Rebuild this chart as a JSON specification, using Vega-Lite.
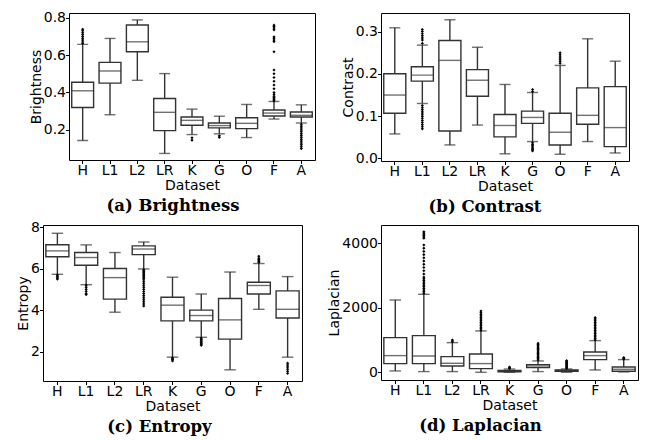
{
"$schema": "https://vega.github.io/schema/vega-lite/v6.json",
"background": "white",
"padding": {"left": 12, "top": 7, "right": 0, "bottom": 0},
"datasets": {
"spacer": [{"k": 0}],
"stats": [
{"p":"a","ds":"H","lo":0.143,"q1":0.320,"med":0.409,"q3":0.455,"hi":0.657},
{"p":"a","ds":"L1","lo":0.281,"q1":0.450,"med":0.515,"q3":0.561,"hi":0.689},
{"p":"a","ds":"L2","lo":0.465,"q1":0.618,"med":0.671,"q3":0.761,"hi":0.788},
{"p":"a","ds":"LR","lo":0.074,"q1":0.196,"med":0.294,"q3":0.368,"hi":0.501},
{"p":"a","ds":"K","lo":0.175,"q1":0.225,"med":0.251,"q3":0.269,"hi":0.311},
{"p":"a","ds":"G","lo":0.179,"q1":0.211,"med":0.223,"q3":0.237,"hi":0.273},
{"p":"a","ds":"O","lo":0.159,"q1":0.207,"med":0.235,"q3":0.265,"hi":0.336},
{"p":"a","ds":"F","lo":0.258,"q1":0.274,"med":0.290,"q3":0.306,"hi":0.352},
{"p":"a","ds":"A","lo":0.237,"q1":0.269,"med":0.278,"q3":0.296,"hi":0.334},
{"p":"b","ds":"H","lo":0.058,"q1":0.107,"med":0.150,"q3":0.2005,"hi":0.309},
{"p":"b","ds":"L1","lo":0.130,"q1":0.183,"med":0.197,"q3":0.217,"hi":0.268},
{"p":"b","ds":"L2","lo":0.032,"q1":0.065,"med":0.232,"q3":0.279,"hi":0.328},
{"p":"b","ds":"LR","lo":0.079,"q1":0.147,"med":0.185,"q3":0.210,"hi":0.263},
{"p":"b","ds":"K","lo":0.011,"q1":0.051,"med":0.078,"q3":0.104,"hi":0.175},
{"p":"b","ds":"G","lo":0.040,"q1":0.083,"med":0.097,"q3":0.112,"hi":0.156},
{"p":"b","ds":"O","lo":0.010,"q1":0.032,"med":0.062,"q3":0.107,"hi":0.220},
{"p":"b","ds":"F","lo":0.040,"q1":0.081,"med":0.102,"q3":0.167,"hi":0.283},
{"p":"b","ds":"A","lo":0.013,"q1":0.028,"med":0.073,"q3":0.170,"hi":0.230},
{"p":"c","ds":"H","lo":5.73,"q1":6.58,"med":6.86,"q3":7.16,"hi":7.71},
{"p":"c","ds":"L1","lo":5.23,"q1":6.17,"med":6.54,"q3":6.78,"hi":7.15},
{"p":"c","ds":"L2","lo":3.90,"q1":4.53,"med":5.57,"q3":6.01,"hi":6.78},
{"p":"c","ds":"LR","lo":5.99,"q1":6.68,"med":6.95,"q3":7.10,"hi":7.29},
{"p":"c","ds":"K","lo":1.73,"q1":3.48,"med":4.24,"q3":4.62,"hi":5.59},
{"p":"c","ds":"G","lo":2.69,"q1":3.48,"med":3.74,"q3":4.00,"hi":4.78},
{"p":"c","ds":"O","lo":1.12,"q1":2.60,"med":3.53,"q3":4.56,"hi":5.84},
{"p":"c","ds":"F","lo":4.04,"q1":4.78,"med":5.19,"q3":5.35,"hi":6.25},
{"p":"c","ds":"A","lo":1.73,"q1":3.62,"med":4.04,"q3":4.93,"hi":5.62},
{"p":"d","ds":"H","lo":41,"q1":269,"med":517,"q3":1075,"hi":2243},
{"p":"d","ds":"L1","lo":21,"q1":269,"med":506,"q3":1137,"hi":2419},
{"p":"d","ds":"L2","lo":21,"q1":196,"med":279,"q3":486,"hi":920},
{"p":"d","ds":"LR","lo":0,"q1":114,"med":269,"q3":568,"hi":1282},
{"p":"d","ds":"K","lo":0,"q1":15,"med":35,"q3":55,"hi":100},
{"p":"d","ds":"G","lo":21,"q1":145,"med":196,"q3":238,"hi":351},
{"p":"d","ds":"O","lo":0,"q1":31,"med":52,"q3":72,"hi":103},
{"p":"d","ds":"F","lo":72,"q1":393,"med":517,"q3":630,"hi":982},
{"p":"d","ds":"A","lo":10,"q1":31,"med":93,"q3":165,"hi":393}
],
"out": [
{"p":"a","ds":"H","v":0.662},{"p":"a","ds":"H","v":0.67},{"p":"a","ds":"H","v":0.68},{"p":"a","ds":"H","v":0.69},{"p":"a","ds":"H","v":0.70},{"p":"a","ds":"H","v":0.71},{"p":"a","ds":"H","v":0.72},{"p":"a","ds":"H","v":0.73},{"p":"a","ds":"H","v":0.738},
{"p":"a","ds":"K","v":0.158},{"p":"a","ds":"K","v":0.145},
{"p":"a","ds":"G","v":0.168},{"p":"a","ds":"G","v":0.16},
{"p":"a","ds":"F","v":0.735},{"p":"a","ds":"F","v":0.745},{"p":"a","ds":"F","v":0.752},{"p":"a","ds":"F","v":0.76},{"p":"a","ds":"F","v":0.672},{"p":"a","ds":"F","v":0.68},{"p":"a","ds":"F","v":0.69},{"p":"a","ds":"F","v":0.697},{"p":"a","ds":"F","v":0.618},{"p":"a","ds":"F","v":0.52},{"p":"a","ds":"F","v":0.50},{"p":"a","ds":"F","v":0.48},{"p":"a","ds":"F","v":0.46},{"p":"a","ds":"F","v":0.44},{"p":"a","ds":"F","v":0.42},{"p":"a","ds":"F","v":0.40},{"p":"a","ds":"F","v":0.39},{"p":"a","ds":"F","v":0.38},{"p":"a","ds":"F","v":0.375},{"p":"a","ds":"F","v":0.37},{"p":"a","ds":"F","v":0.365},{"p":"a","ds":"F","v":0.36},{"p":"a","ds":"F","v":0.355},
{"p":"a","ds":"A","v":0.23},{"p":"a","ds":"A","v":0.22},{"p":"a","ds":"A","v":0.21},{"p":"a","ds":"A","v":0.20},{"p":"a","ds":"A","v":0.19},{"p":"a","ds":"A","v":0.18},{"p":"a","ds":"A","v":0.17},{"p":"a","ds":"A","v":0.16},{"p":"a","ds":"A","v":0.15},{"p":"a","ds":"A","v":0.14},{"p":"a","ds":"A","v":0.13},{"p":"a","ds":"A","v":0.12},{"p":"a","ds":"A","v":0.11},{"p":"a","ds":"A","v":0.10},
{"p":"b","ds":"L1","v":0.272},{"p":"b","ds":"L1","v":0.28},{"p":"b","ds":"L1","v":0.285},{"p":"b","ds":"L1","v":0.29},{"p":"b","ds":"L1","v":0.295},{"p":"b","ds":"L1","v":0.30},{"p":"b","ds":"L1","v":0.305},
{"p":"b","ds":"L1","v":0.125},{"p":"b","ds":"L1","v":0.12},{"p":"b","ds":"L1","v":0.115},{"p":"b","ds":"L1","v":0.11},{"p":"b","ds":"L1","v":0.105},{"p":"b","ds":"L1","v":0.10},{"p":"b","ds":"L1","v":0.095},{"p":"b","ds":"L1","v":0.09},{"p":"b","ds":"L1","v":0.085},{"p":"b","ds":"L1","v":0.08},{"p":"b","ds":"L1","v":0.075},{"p":"b","ds":"L1","v":0.07},
{"p":"b","ds":"G","v":0.158},{"p":"b","ds":"G","v":0.163},{"p":"b","ds":"G","v":0.037},{"p":"b","ds":"G","v":0.033},{"p":"b","ds":"G","v":0.03},{"p":"b","ds":"G","v":0.027},{"p":"b","ds":"G","v":0.024},{"p":"b","ds":"G","v":0.021},{"p":"b","ds":"G","v":0.018},
{"p":"b","ds":"O","v":0.225},{"p":"b","ds":"O","v":0.23},{"p":"b","ds":"O","v":0.235},{"p":"b","ds":"O","v":0.24},{"p":"b","ds":"O","v":0.245},{"p":"b","ds":"O","v":0.25},
{"p":"c","ds":"H","v":5.7},{"p":"c","ds":"H","v":5.65},{"p":"c","ds":"H","v":5.6},{"p":"c","ds":"H","v":5.55},{"p":"c","ds":"H","v":5.5},
{"p":"c","ds":"L1","v":5.2},{"p":"c","ds":"L1","v":5.1},{"p":"c","ds":"L1","v":5.0},{"p":"c","ds":"L1","v":4.9},{"p":"c","ds":"L1","v":4.8},{"p":"c","ds":"L1","v":4.75},
{"p":"c","ds":"LR","v":5.95},{"p":"c","ds":"LR","v":5.9},{"p":"c","ds":"LR","v":5.85},{"p":"c","ds":"LR","v":5.8},{"p":"c","ds":"LR","v":5.75},{"p":"c","ds":"LR","v":5.7},{"p":"c","ds":"LR","v":5.65},{"p":"c","ds":"LR","v":5.6},{"p":"c","ds":"LR","v":5.55},{"p":"c","ds":"LR","v":5.5},{"p":"c","ds":"LR","v":5.4},{"p":"c","ds":"LR","v":5.3},{"p":"c","ds":"LR","v":5.2},{"p":"c","ds":"LR","v":5.1},{"p":"c","ds":"LR","v":5.0},{"p":"c","ds":"LR","v":4.9},{"p":"c","ds":"LR","v":4.8},{"p":"c","ds":"LR","v":4.7},{"p":"c","ds":"LR","v":4.6},{"p":"c","ds":"LR","v":4.5},{"p":"c","ds":"LR","v":4.4},{"p":"c","ds":"LR","v":4.3},{"p":"c","ds":"LR","v":4.2},
{"p":"c","ds":"K","v":1.7},{"p":"c","ds":"K","v":1.65},{"p":"c","ds":"K","v":1.6},{"p":"c","ds":"K","v":1.55},
{"p":"c","ds":"G","v":2.65},{"p":"c","ds":"G","v":2.6},{"p":"c","ds":"G","v":2.55},{"p":"c","ds":"G","v":2.5},{"p":"c","ds":"G","v":2.45},{"p":"c","ds":"G","v":2.4},{"p":"c","ds":"G","v":2.35},{"p":"c","ds":"G","v":2.3},
{"p":"c","ds":"F","v":6.3},{"p":"c","ds":"F","v":6.35},{"p":"c","ds":"F","v":6.4},{"p":"c","ds":"F","v":6.45},{"p":"c","ds":"F","v":6.5},{"p":"c","ds":"F","v":6.6},
{"p":"c","ds":"A","v":1.44},{"p":"c","ds":"A","v":1.35},{"p":"c","ds":"A","v":1.25},{"p":"c","ds":"A","v":1.15},{"p":"c","ds":"A","v":1.05},{"p":"c","ds":"A","v":0.95},
{"p":"d","ds":"L1","v":4360},{"p":"d","ds":"L1","v":4320},{"p":"d","ds":"L1","v":4280},{"p":"d","ds":"L1","v":4240},{"p":"d","ds":"L1","v":4200},{"p":"d","ds":"L1","v":4160},{"p":"d","ds":"L1","v":3950},{"p":"d","ds":"L1","v":3850},{"p":"d","ds":"L1","v":3750},{"p":"d","ds":"L1","v":3650},{"p":"d","ds":"L1","v":3550},{"p":"d","ds":"L1","v":3450},{"p":"d","ds":"L1","v":3350},{"p":"d","ds":"L1","v":3250},{"p":"d","ds":"L1","v":3150},{"p":"d","ds":"L1","v":3050},{"p":"d","ds":"L1","v":2950},{"p":"d","ds":"L1","v":2900},{"p":"d","ds":"L1","v":2850},{"p":"d","ds":"L1","v":2800},{"p":"d","ds":"L1","v":2750},{"p":"d","ds":"L1","v":2700},{"p":"d","ds":"L1","v":2650},{"p":"d","ds":"L1","v":2600},{"p":"d","ds":"L1","v":2550},{"p":"d","ds":"L1","v":2500},{"p":"d","ds":"L1","v":2450},
{"p":"d","ds":"L2","v":940},{"p":"d","ds":"L2","v":970},{"p":"d","ds":"L2","v":1000},
{"p":"d","ds":"LR","v":1300},{"p":"d","ds":"LR","v":1350},{"p":"d","ds":"LR","v":1400},{"p":"d","ds":"LR","v":1450},{"p":"d","ds":"LR","v":1500},{"p":"d","ds":"LR","v":1550},{"p":"d","ds":"LR","v":1600},{"p":"d","ds":"LR","v":1650},{"p":"d","ds":"LR","v":1700},{"p":"d","ds":"LR","v":1750},{"p":"d","ds":"LR","v":1800},{"p":"d","ds":"LR","v":1850},{"p":"d","ds":"LR","v":1900},
{"p":"d","ds":"K","v":120},{"p":"d","ds":"K","v":140},{"p":"d","ds":"K","v":160},
{"p":"d","ds":"G","v":380},{"p":"d","ds":"G","v":420},{"p":"d","ds":"G","v":460},{"p":"d","ds":"G","v":500},{"p":"d","ds":"G","v":540},{"p":"d","ds":"G","v":580},{"p":"d","ds":"G","v":620},{"p":"d","ds":"G","v":660},{"p":"d","ds":"G","v":700},{"p":"d","ds":"G","v":740},{"p":"d","ds":"G","v":780},{"p":"d","ds":"G","v":820},{"p":"d","ds":"G","v":860},{"p":"d","ds":"G","v":900},
{"p":"d","ds":"O","v":120},{"p":"d","ds":"O","v":150},{"p":"d","ds":"O","v":180},{"p":"d","ds":"O","v":210},{"p":"d","ds":"O","v":240},{"p":"d","ds":"O","v":270},{"p":"d","ds":"O","v":300},{"p":"d","ds":"O","v":330},{"p":"d","ds":"O","v":360},
{"p":"d","ds":"F","v":1000},{"p":"d","ds":"F","v":1050},{"p":"d","ds":"F","v":1100},{"p":"d","ds":"F","v":1150},{"p":"d","ds":"F","v":1200},{"p":"d","ds":"F","v":1250},{"p":"d","ds":"F","v":1300},{"p":"d","ds":"F","v":1350},{"p":"d","ds":"F","v":1400},{"p":"d","ds":"F","v":1450},{"p":"d","ds":"F","v":1500},{"p":"d","ds":"F","v":1550},{"p":"d","ds":"F","v":1600},{"p":"d","ds":"F","v":1650},{"p":"d","ds":"F","v":1695},
{"p":"d","ds":"A","v":410},{"p":"d","ds":"A","v":430},{"p":"d","ds":"A","v":455}
]
},
"vconcat": [
{"hconcat": [
{"width": 16, "height": 1, "view": {"stroke": null}, "data": {"name": "spacer"}, "mark": {"type": "text", "text": ""}, "encoding": {}},
{"hconcat": [
{"width": 246, "height": 147,
 "title": {"text": "(a) Brightness", "dx": -19},
 "layer": [
  {"data": {"name": "stats"}, "transform": [{"filter": "datum.p==='a'"}],
   "mark": {"type": "rule", "color": "#333", "strokeWidth": 1.4},
   "encoding": {
    "x": {"field": "ds", "type": "nominal", "sort": ["H","L1","L2","LR","K","G","O","F","A"], "scale": {"type": "band", "paddingInner": 0, "paddingOuter": 0}, "title": "Dataset"},
    "y": {"field": "lo", "type": "quantitative", "scale": {"domain": [0.039, 0.825], "nice": false, "zero": false}, "axis": {"values": [0.2,0.4,0.6,0.8], "format": ".1f"}, "title": "Brightness"},
    "y2": {"field": "hi"}}},
  {"data": {"name": "stats"}, "transform": [{"filter": "datum.p==='a'"}],
   "mark": {"type": "bar", "fill": "white", "stroke": "#333", "strokeWidth": 1.4, "width": {"band": 0.8}},
   "encoding": {"x": {"field": "ds", "type": "nominal", "sort": ["H","L1","L2","LR","K","G","O","F","A"]}, "y": {"field": "q1", "type": "quantitative"}, "y2": {"field": "q3"}}},
  {"data": {"name": "stats"}, "transform": [{"filter": "datum.p==='a'"}],
   "mark": {"type": "tick", "color": "#333", "thickness": 1.4, "size": 22},
   "encoding": {"x": {"field": "ds", "type": "nominal", "sort": ["H","L1","L2","LR","K","G","O","F","A"]}, "y": {"field": "med", "type": "quantitative"}}},
  {"data": {"name": "stats"}, "transform": [{"filter": "datum.p==='a'"}],
   "mark": {"type": "tick", "color": "#333", "thickness": 1.4, "size": 11},
   "encoding": {"x": {"field": "ds", "type": "nominal", "sort": ["H","L1","L2","LR","K","G","O","F","A"]}, "y": {"field": "lo", "type": "quantitative"}}},
  {"data": {"name": "stats"}, "transform": [{"filter": "datum.p==='a'"}],
   "mark": {"type": "tick", "color": "#333", "thickness": 1.4, "size": 11},
   "encoding": {"x": {"field": "ds", "type": "nominal", "sort": ["H","L1","L2","LR","K","G","O","F","A"]}, "y": {"field": "hi", "type": "quantitative"}}},
  {"data": {"name": "out"}, "transform": [{"filter": "datum.p==='a'"}],
   "mark": {"type": "point", "shape": "diamond", "filled": true, "color": "black", "size": 10, "opacity": 1},
   "encoding": {"x": {"field": "ds", "type": "nominal", "sort": ["H","L1","L2","LR","K","G","O","F","A"]}, "y": {"field": "v", "type": "quantitative"}}}
 ]},
{"width": 248, "height": 148,
 "title": {"text": "(b) Contrast", "dx": -20},
 "layer": [
  {"data": {"name": "stats"}, "transform": [{"filter": "datum.p==='b'"}],
   "mark": {"type": "rule", "color": "#333", "strokeWidth": 1.4},
   "encoding": {
    "x": {"field": "ds", "type": "nominal", "sort": ["H","L1","L2","LR","K","G","O","F","A"], "scale": {"type": "band", "paddingInner": 0, "paddingOuter": 0}, "title": "Dataset"},
    "y": {"field": "lo", "type": "quantitative", "scale": {"domain": [-0.006, 0.344], "nice": false, "zero": false}, "axis": {"values": [0,0.1,0.2,0.3], "format": ".1f"}, "title": "Contrast"},
    "y2": {"field": "hi"}}},
  {"data": {"name": "stats"}, "transform": [{"filter": "datum.p==='b'"}],
   "mark": {"type": "bar", "fill": "white", "stroke": "#333", "strokeWidth": 1.4, "width": {"band": 0.8}},
   "encoding": {"x": {"field": "ds", "type": "nominal", "sort": ["H","L1","L2","LR","K","G","O","F","A"]}, "y": {"field": "q1", "type": "quantitative"}, "y2": {"field": "q3"}}},
  {"data": {"name": "stats"}, "transform": [{"filter": "datum.p==='b'"}],
   "mark": {"type": "tick", "color": "#333", "thickness": 1.4, "size": 22},
   "encoding": {"x": {"field": "ds", "type": "nominal", "sort": ["H","L1","L2","LR","K","G","O","F","A"]}, "y": {"field": "med", "type": "quantitative"}}},
  {"data": {"name": "stats"}, "transform": [{"filter": "datum.p==='b'"}],
   "mark": {"type": "tick", "color": "#333", "thickness": 1.4, "size": 11},
   "encoding": {"x": {"field": "ds", "type": "nominal", "sort": ["H","L1","L2","LR","K","G","O","F","A"]}, "y": {"field": "lo", "type": "quantitative"}}},
  {"data": {"name": "stats"}, "transform": [{"filter": "datum.p==='b'"}],
   "mark": {"type": "tick", "color": "#333", "thickness": 1.4, "size": 11},
   "encoding": {"x": {"field": "ds", "type": "nominal", "sort": ["H","L1","L2","LR","K","G","O","F","A"]}, "y": {"field": "hi", "type": "quantitative"}}},
  {"data": {"name": "out"}, "transform": [{"filter": "datum.p==='b'"}],
   "mark": {"type": "point", "shape": "diamond", "filled": true, "color": "black", "size": 10, "opacity": 1},
   "encoding": {"x": {"field": "ds", "type": "nominal", "sort": ["H","L1","L2","LR","K","G","O","F","A"]}, "y": {"field": "v", "type": "quantitative"}}}
 ]}
], "spacing": 24}
], "spacing": 0},
{"hconcat": [
{"width": 4, "height": 1, "view": {"stroke": null}, "data": {"name": "spacer"}, "mark": {"type": "text", "text": ""}, "encoding": {}},
{"hconcat": [
{"width": 259, "height": 156,
 "title": {"text": "(c) Entropy", "dx": -13},
 "layer": [
  {"data": {"name": "stats"}, "transform": [{"filter": "datum.p==='c'"}],
   "mark": {"type": "rule", "color": "#333", "strokeWidth": 1.4},
   "encoding": {
    "x": {"field": "ds", "type": "nominal", "sort": ["H","L1","L2","LR","K","G","O","F","A"], "scale": {"type": "band", "paddingInner": 0, "paddingOuter": 0}, "title": "Dataset"},
    "y": {"field": "lo", "type": "quantitative", "scale": {"domain": [0.58, 8.11], "nice": false, "zero": false}, "axis": {"values": [2,4,6,8], "format": "d"}, "title": "Entropy"},
    "y2": {"field": "hi"}}},
  {"data": {"name": "stats"}, "transform": [{"filter": "datum.p==='c'"}],
   "mark": {"type": "bar", "fill": "white", "stroke": "#333", "strokeWidth": 1.4, "width": {"band": 0.8}},
   "encoding": {"x": {"field": "ds", "type": "nominal", "sort": ["H","L1","L2","LR","K","G","O","F","A"]}, "y": {"field": "q1", "type": "quantitative"}, "y2": {"field": "q3"}}},
  {"data": {"name": "stats"}, "transform": [{"filter": "datum.p==='c'"}],
   "mark": {"type": "tick", "color": "#333", "thickness": 1.4, "size": 23},
   "encoding": {"x": {"field": "ds", "type": "nominal", "sort": ["H","L1","L2","LR","K","G","O","F","A"]}, "y": {"field": "med", "type": "quantitative"}}},
  {"data": {"name": "stats"}, "transform": [{"filter": "datum.p==='c'"}],
   "mark": {"type": "tick", "color": "#333", "thickness": 1.4, "size": 11.5},
   "encoding": {"x": {"field": "ds", "type": "nominal", "sort": ["H","L1","L2","LR","K","G","O","F","A"]}, "y": {"field": "lo", "type": "quantitative"}}},
  {"data": {"name": "stats"}, "transform": [{"filter": "datum.p==='c'"}],
   "mark": {"type": "tick", "color": "#333", "thickness": 1.4, "size": 11.5},
   "encoding": {"x": {"field": "ds", "type": "nominal", "sort": ["H","L1","L2","LR","K","G","O","F","A"]}, "y": {"field": "hi", "type": "quantitative"}}},
  {"data": {"name": "out"}, "transform": [{"filter": "datum.p==='c'"}],
   "mark": {"type": "point", "shape": "diamond", "filled": true, "color": "black", "size": 10, "opacity": 1},
   "encoding": {"x": {"field": "ds", "type": "nominal", "sort": ["H","L1","L2","LR","K","G","O","F","A"]}, "y": {"field": "v", "type": "quantitative"}}}
 ]},
{"width": 257, "height": 155,
 "title": {"text": "(d) Laplacian", "dx": -29},
 "layer": [
  {"data": {"name": "stats"}, "transform": [{"filter": "datum.p==='d'"}],
   "mark": {"type": "rule", "color": "#333", "strokeWidth": 1.4},
   "encoding": {
    "x": {"field": "ds", "type": "nominal", "sort": ["H","L1","L2","LR","K","G","O","F","A"], "scale": {"type": "band", "paddingInner": 0, "paddingOuter": 0}, "title": "Dataset"},
    "y": {"field": "lo", "type": "quantitative", "scale": {"domain": [-240, 4570], "nice": false, "zero": false}, "axis": {"values": [0,1000,2000,3000,4000], "format": "d"}, "title": "Laplacian"},
    "y2": {"field": "hi"}}},
  {"data": {"name": "stats"}, "transform": [{"filter": "datum.p==='d'"}],
   "mark": {"type": "bar", "fill": "white", "stroke": "#333", "strokeWidth": 1.4, "width": {"band": 0.8}},
   "encoding": {"x": {"field": "ds", "type": "nominal", "sort": ["H","L1","L2","LR","K","G","O","F","A"]}, "y": {"field": "q1", "type": "quantitative"}, "y2": {"field": "q3"}}},
  {"data": {"name": "stats"}, "transform": [{"filter": "datum.p==='d'"}],
   "mark": {"type": "tick", "color": "#333", "thickness": 1.4, "size": 23},
   "encoding": {"x": {"field": "ds", "type": "nominal", "sort": ["H","L1","L2","LR","K","G","O","F","A"]}, "y": {"field": "med", "type": "quantitative"}}},
  {"data": {"name": "stats"}, "transform": [{"filter": "datum.p==='d'"}],
   "mark": {"type": "tick", "color": "#333", "thickness": 1.4, "size": 11.5},
   "encoding": {"x": {"field": "ds", "type": "nominal", "sort": ["H","L1","L2","LR","K","G","O","F","A"]}, "y": {"field": "lo", "type": "quantitative"}}},
  {"data": {"name": "stats"}, "transform": [{"filter": "datum.p==='d'"}],
   "mark": {"type": "tick", "color": "#333", "thickness": 1.4, "size": 11.5},
   "encoding": {"x": {"field": "ds", "type": "nominal", "sort": ["H","L1","L2","LR","K","G","O","F","A"]}, "y": {"field": "hi", "type": "quantitative"}}},
  {"data": {"name": "out"}, "transform": [{"filter": "datum.p==='d'"}],
   "mark": {"type": "point", "shape": "diamond", "filled": true, "color": "black", "size": 10, "opacity": 1},
   "encoding": {"x": {"field": "ds", "type": "nominal", "sort": ["H","L1","L2","LR","K","G","O","F","A"]}, "y": {"field": "v", "type": "quantitative"}}}
 ]}
], "spacing": 24}
], "spacing": 0}
],
"spacing": 3,
"config": {
 "view": {"stroke": "black", "strokeWidth": 1},
 "axis": {"labelFont": "DejaVu Sans", "labelFontSize": 14, "titleFont": "DejaVu Sans", "titleFontSize": 14, "titleFontWeight": "normal", "labelColor": "black", "titleColor": "black", "tickColor": "black", "domain": false, "grid": false, "tickSize": 3.5, "labelPadding": 0},
 "axisX": {"labelAngle": 0, "titlePadding": 1},
 "axisY": {"titlePadding": 0},
 "title": {"font": "DejaVu Serif", "fontSize": 16.5, "fontWeight": "bold", "color": "black", "orient": "bottom", "offset": 5, "frame": "group", "anchor": "middle"}
}
}
